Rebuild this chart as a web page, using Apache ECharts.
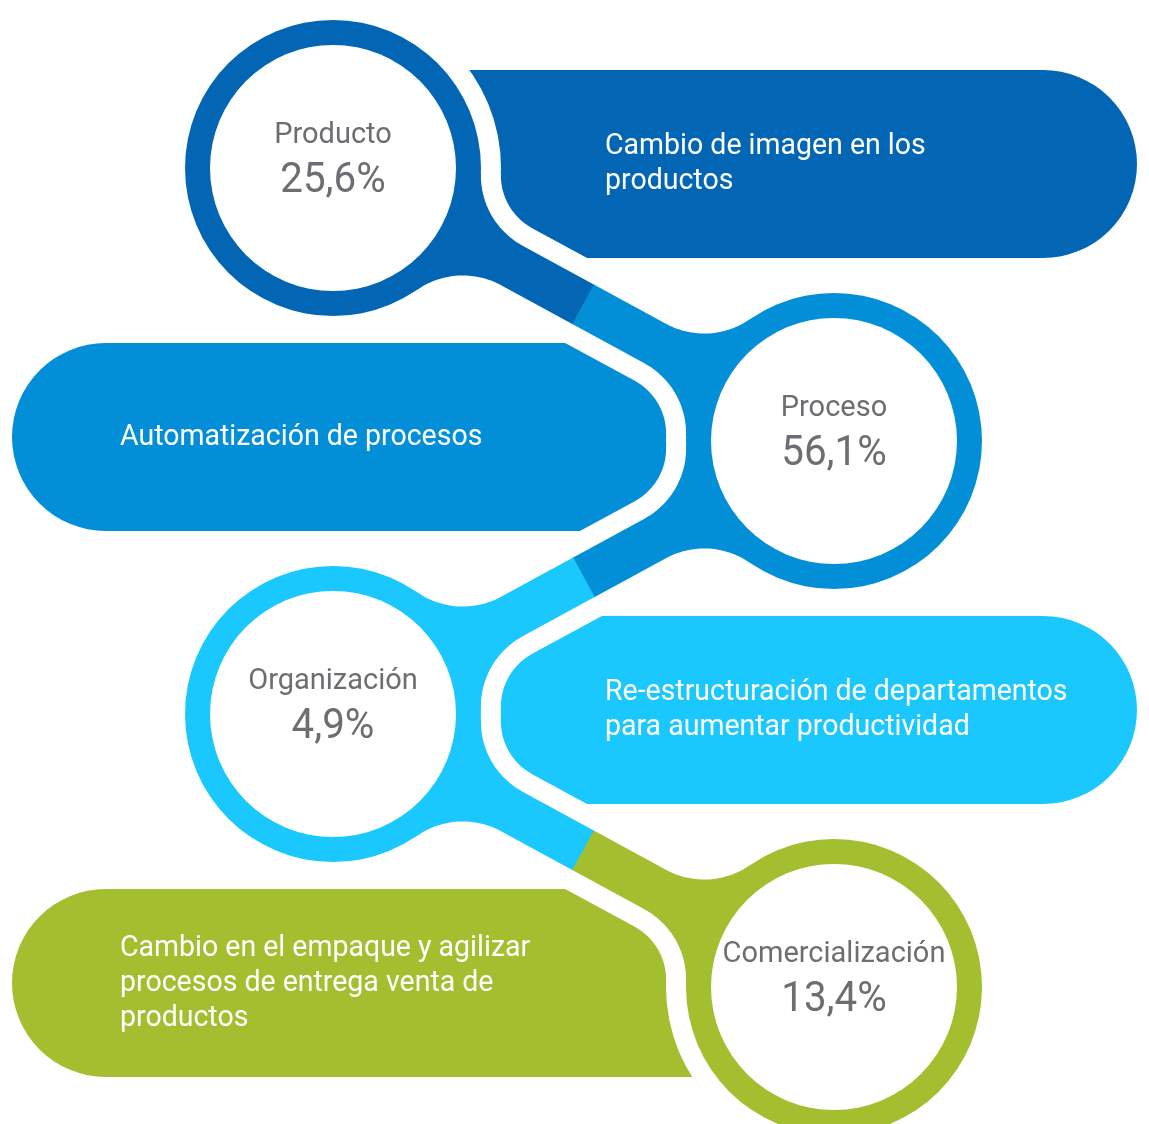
<!DOCTYPE html>
<html><head><meta charset="utf-8">
<script src="https://cdn.jsdelivr.net/npm/echarts@6/dist/echarts.min.js"></script>
<style>html,body{margin:0;padding:0;background:#fff}#c{width:1149px;height:1124px}</style>
</head><body><div id="c"></div>
<script>
const categories = ['Producto', 'Proceso', 'Organización', 'Comercialización'];
const values = [25.6, 56.1, 4.9, 13.4];
const descriptions = [
  'Cambio de imagen en los\nproductos',
  'Automatización de procesos',
  'Re-estructuración de departamentos\npara aumentar productividad',
  'Cambio en el empaque y agilizar\nprocesos de entrega venta de\nproductos'
];
const colors = ['#0366b4', '#038fd7', '#1ac8fe', '#a3bf30'];

const R = 148, RI = 123, H = 22.5, F = 80, G = 20, PILL_H = 188, PILL_DY = -4;
const FONT = 'Roboto, "Noto Sans", sans-serif';
function fmt(v) { return v.toFixed(1).replace('.', ',') + '%'; }
function center(api, i) { return api.coord([i % 2, i]); }

function halfBone(O, D, Rr, h, rf, extra) {
  const dx = D[0] - O[0], dy = D[1] - O[1], len = Math.hypot(dx, dy);
  const d = [dx / len, dy / len], n = [-d[1], d[0]];
  const L = len / 2 + extra;
  const uc = Math.sqrt((R + F) * (R + F) - (H + F) * (H + F));
  const side = (s) => {
    const C = [O[0] + uc * d[0] + s * (H + F) * n[0], O[1] + uc * d[1] + s * (H + F) * n[1]];
    const T1 = [O[0] + (C[0] - O[0]) * Rr / (R + F), O[1] + (C[1] - O[1]) * Rr / (R + F)];
    const T2 = [O[0] + uc * d[0] + s * h * n[0], O[1] + uc * d[1] + s * h * n[1]];
    const a1 = Math.atan2(T1[1] - C[1], T1[0] - C[0]);
    const a2 = Math.atan2(T2[1] - C[1], T2[0] - C[0]);
    let da = a2 - a1;
    while (da > Math.PI) da -= 2 * Math.PI;
    while (da < -Math.PI) da += 2 * Math.PI;
    const arc = [];
    for (let k = 0; k <= 24; k++) {
      const a = a1 + da * k / 24;
      arc.push([C[0] + rf * Math.cos(a), C[1] + rf * Math.sin(a)]);
    }
    return arc;
  };
  const pts = [O.slice()];
  pts.push(...side(1));
  pts.push([O[0] + L * d[0] + h * n[0], O[1] + L * d[1] + h * n[1]]);
  pts.push([O[0] + L * d[0] - h * n[0], O[1] + L * d[1] - h * n[1]]);
  pts.push(...side(-1).reverse());
  return pts;
}

function neighbours(api, i) {
  const out = [];
  if (i > 0) out.push(center(api, i - 1));
  if (i < categories.length - 1) out.push(center(api, i + 1));
  return out;
}

const seriesData = categories.map((c, i) => ({ name: c, value: [i % 2, i, values[i]] }));

function pillItem(params, api) {
  const i = params.dataIndex, p = center(api, i), W = api.getWidth();
  const top = p[1] - PILL_H / 2 + PILL_DY;
  let x, w, rr;
  if (i % 2 === 0) { x = p[0]; w = W - 12 - p[0]; rr = [0, PILL_H / 2, PILL_H / 2, 0]; }
  else { x = 12; w = p[0] - 12; rr = [PILL_H / 2, 0, 0, PILL_H / 2]; }
  return { type: 'rect', shape: { x: x, y: top, width: w, height: PILL_H, r: rr }, style: { fill: colors[i] } };
}

function haloItem(params, api) {
  const i = params.dataIndex, p = center(api, i);
  const children = [{ type: 'circle', shape: { cx: p[0], cy: p[1], r: R + G }, style: { fill: '#ffffff' } }];
  neighbours(api, i).forEach(q => {
    children.push({ type: 'polygon', shape: { points: halfBone(p, q, R + G, H + G, F - G, 3) }, style: { fill: '#ffffff' } });
  });
  return { type: 'group', children: children };
}

function ringItem(params, api) {
  const i = params.dataIndex, p = center(api, i);
  const children = [{ type: 'circle', shape: { cx: p[0], cy: p[1], r: R }, style: { fill: colors[i] } }];
  neighbours(api, i).forEach(q => {
    children.push({ type: 'polygon', shape: { points: halfBone(p, q, R, H, F, 0.5) }, style: { fill: colors[i] } });
  });
  children.push({ type: 'circle', shape: { cx: p[0], cy: p[1], r: RI }, style: { fill: '#ffffff' } });
  return { type: 'group', children: children };
}

function textItem(params, api) {
  const i = params.dataIndex, p = center(api, i);
  const pillMid = p[1] + PILL_DY;
  const tx = (i % 2 === 0) ? p[0] + 272 : 12 + 108;
  return {
    type: 'group',
    children: [
      { type: 'text', x: p[0], y: p[1] - 32,
        style: { text: categories[i], fill: '#6d6e71', font: '29px ' + FONT, align: 'center', verticalAlign: 'middle' } },
      { type: 'text', x: p[0], y: p[1] + 13, scaleX: 0.96,
        style: { text: fmt(values[i]), fill: '#6d6e71', font: '42px ' + FONT, align: 'center', verticalAlign: 'middle' } },
      { type: 'text', x: tx, y: pillMid, scaleX: 0.95,
        style: { text: descriptions[i], fill: '#ffffff', font: '30px ' + FONT, lineHeight: 35, align: 'left', verticalAlign: 'middle' } }
    ]
  };
}

const chart = echarts.init(document.getElementById('c'), null, { renderer: 'canvas' });
chart.setOption({
  backgroundColor: '#ffffff',
  animation: false,
  grid: { left: 333, right: 315, top: 168, bottom: 137 },
  xAxis: { type: 'value', min: 0, max: 1, show: false },
  yAxis: { type: 'category', data: categories, inverse: true, boundaryGap: false, show: false },
  tooltip: { show: false },
  series: [
    { type: 'custom', z: 1, renderItem: pillItem, data: seriesData, encode: { x: 0, y: 1 }, silent: true },
    { type: 'custom', z: 2, renderItem: haloItem, data: seriesData, encode: { x: 0, y: 1 }, silent: true },
    { type: 'custom', z: 3, renderItem: ringItem, data: seriesData, encode: { x: 0, y: 1 }, silent: true },
    { type: 'custom', z: 4, renderItem: textItem, data: seriesData, encode: { x: 0, y: 1 }, silent: true }
  ]
});
</script></body></html>
